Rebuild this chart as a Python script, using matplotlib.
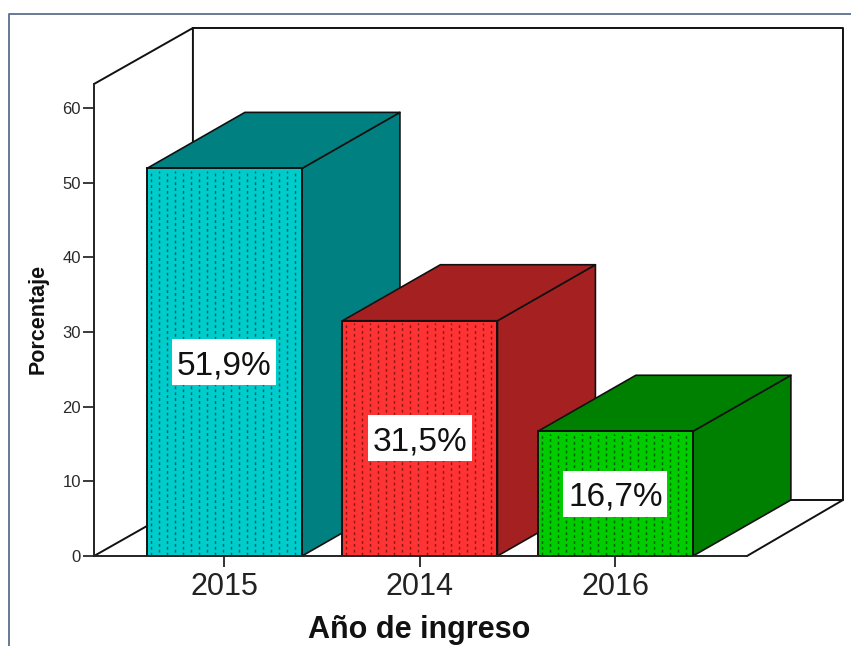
import matplotlib
matplotlib.use('Agg')
import matplotlib.pyplot as plt
from matplotlib.lines import Line2D
from matplotlib.patches import Polygon, Rectangle
import numpy as np

# data
years = ['2015', '2014', '2016']
percent = [51.9, 31.5, 16.7]
percent_labels = ['51,9%', '31,5%', '16,7%']
front_colors = ['#00CCCC', '#FF3333', '#00CC00']
side_colors = ['#008080', '#A52020', '#008000']
dot_colors = ['#00696E', '#8A1A1A', '#005F00']
y_ticks = [0, 10, 20, 30, 40, 50, 60]

plt.rcParams['font.family'] = ['Liberation Sans', 'DejaVu Sans']

W, H = 851, 646
fig = plt.figure(figsize=(W / 100, H / 100), dpi=100, facecolor='white')
ax = fig.add_axes([94 / W, (H - 556) / H, 653 / W, 472 / H])

x_min, x_max = -0.6675, 2.673
y_max = 63.2
ax.set_xlim(x_min, x_max)
ax.set_ylim(0, y_max)
ax.patch.set_visible(False)

# 3D offset of the box, in data units
dx, dy = 0.501, 7.5
back_left, back_right = x_min + 0.506, x_max + 0.491
bar_w = 0.793
label_w, label_h = 0.532, 6.16
line_kw = dict(color='#111111', lw=1.4, clip_on=False, zorder=1, solid_capstyle='round')

# walls and floor
ax.plot([x_min, back_left], [0, dy], **line_kw)
ax.plot([x_min, back_left, back_right, back_right, back_left, back_left],
        [y_max, y_max + dy, y_max + dy, dy, dy, y_max + dy], **line_kw)
ax.plot([x_max, back_right], [0, dy], **line_kw)

# bars
for i, val in enumerate(percent):
    x0, x1 = i - bar_w / 2, i + bar_w / 2
    edge = dict(edgecolor='#111111', lw=1.2, clip_on=False, joinstyle='round')
    ax.add_patch(Polygon([(x1, 0), (x1 + dx, dy), (x1 + dx, val + dy), (x1, val)],
                         facecolor=side_colors[i], zorder=2, **edge))
    ax.add_patch(Polygon([(x0, val), (x0 + dx, val + dy), (x1 + dx, val + dy), (x1, val)],
                         facecolor=side_colors[i], zorder=2, **edge))
    ax.bar(i, val, width=bar_w, color=front_colors[i], edgecolor='#111111', lw=1.4, zorder=3)
    # stippled fill: staggered columns of dots
    cols = np.arange(x0 + 0.02, x1 - 0.01, 0.041)
    for j, cx in enumerate(cols):
        ax.plot([cx, cx], [0.2, val - 0.3], color=dot_colors[i], lw=1.05, zorder=4,
                linestyle=(2.0 * (j % 2), (1.9, 2.1)))
    # white box, with the value a little lower inside it
    ax.add_patch(Rectangle((i - label_w / 2, val / 2 - label_h / 2), label_w, label_h,
                           facecolor='white', edgecolor='none', zorder=5))
    ax.annotate(percent_labels[i], (i, val / 2), xytext=(0, -2.5), textcoords='offset points',
                ha='center', va='center', fontsize=24, color='#111111', zorder=6)

# axes
for side in ['top', 'right']:
    ax.spines[side].set_visible(False)
for side in ['left', 'bottom']:
    ax.spines[side].set_linewidth(1.4)
    ax.spines[side].set_color('#222222')
    ax.spines[side].set_zorder(7)

ax.set_yticks(y_ticks)
ax.set_xticks(range(len(years)))
ax.set_xticklabels(years)
ax.tick_params(axis='y', length=8, width=1.3, labelsize=12, pad=1.5, colors='#2A2A2A')
ax.tick_params(axis='x', length=8, width=1.3, labelsize=22, pad=3.5, colors='#222222')

ax.set_xlabel('Año de ingreso', fontsize=22, fontweight='bold', color='#111111')
ax.xaxis.set_label_coords(0.498, -0.125)
ax.set_ylabel('Porcentaje', fontsize=15.5, fontweight='bold', color='#111111')
ax.yaxis.set_label_coords(-0.070, 0.503)

# outer frame of the pasted picture
frame = '#5A6E8C'
fig.add_artist(Line2D([8.5 / W, 8.5 / W, 1], [0, 1 - 13.5 / H, 1 - 13.5 / H], color=frame, lw=1.3))

fig.savefig('out.png', dpi=100)
